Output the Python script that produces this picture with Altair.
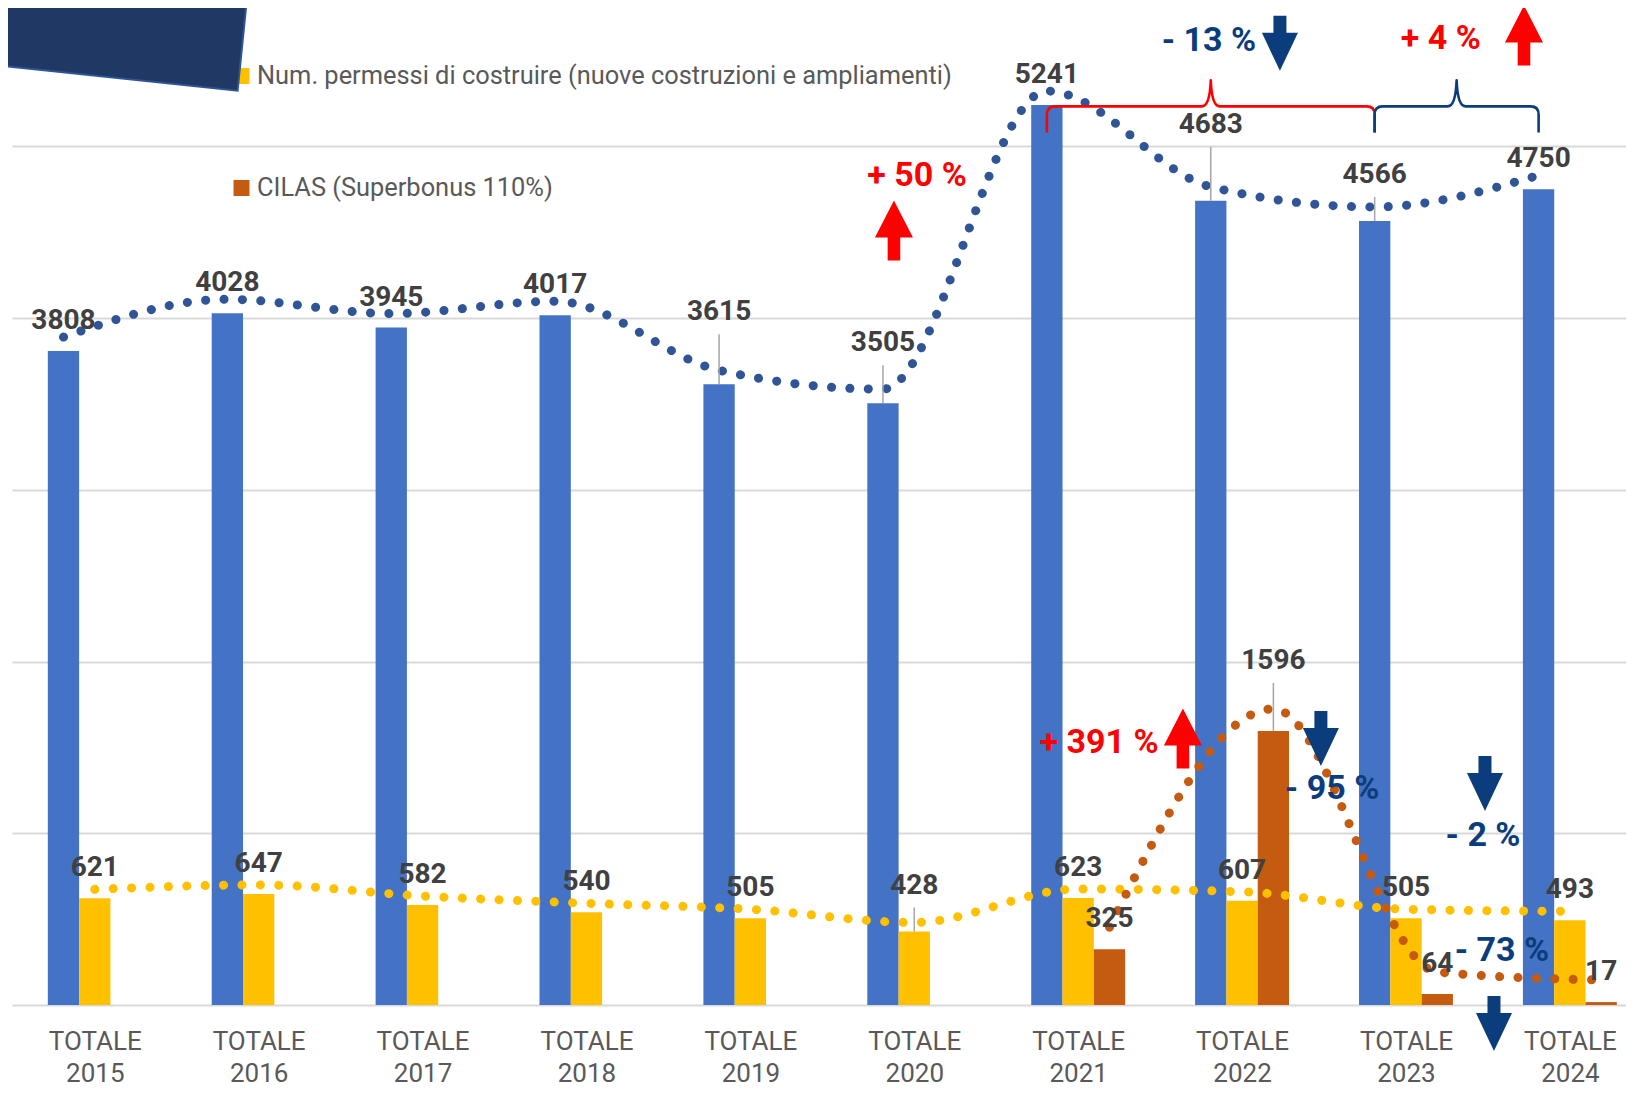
import altair as alt
import pandas as pd

# ---------------- data ----------------
years = [2015, 2016, 2017, 2018, 2019, 2020, 2021, 2022, 2023, 2024]
totale = [3808, 4028, 3945, 4017, 3615, 3505, 5241, 4683, 4566, 4750]
permessi = [621, 647, 582, 540, 505, 428, 623, 607, 505, 493]
cilas = [None, None, None, None, None, None, 325, 1596, 64, 17]

series = [
    "Totale",
    "Num. permessi di costruire (nuove costruzioni e ampliamenti)",
    "CILAS (Superbonus 110%)",
]
legend_items = series[1:]

# percentage annotations (data coordinates: year, value)
pct_text = ["+ 50 %", "+ 4 %", "+ 391 %", "- 13 %", "- 95 %", "- 2 %", "- 73 %"]
pct_x = [2020.017, 2023.213, 2021.127, 2021.798, 2022.549, 2023.470, 2023.585]
pct_y = [4825, 5623, 1523, 5611, 1255, 987, 317]
pct_dir = ["up", "up", "up", "down", "down", "down", "down"]

up_x = [2019.876, 2023.720, 2021.639]
up_y = [4511, 5646, 1552]
down_x = [2022.231, 2022.481, 2023.482, 2023.537]
down_y = [5600, 1552, 1290, -108]

brace_from = [2021, 2023]
brace_to = [2023, 2024]
brace_val = 5233

# ---------------- layout / style ----------------
PLOT_W, PLOT_H = 1614, 997
X_MIN = 2014.495
STEP = 163.9
X_MAX = X_MIN + PLOT_W / STEP
Y_MAX = 5806
PX = PLOT_H / Y_MAX
BAR_W = 0.191
OFFSETS = [-0.191, 0.0, 0.191]

BAR_COLORS = ["#4472C4", "#FFC000", "#C55A11"]
TREND_COLORS = ["#2F5597", "#FFC000", "#C55A11"]
TREND_LIFT = [-14, -9, -22]
RED = "#FF0000"
NAVY = "#0B3D7D"
FONT = "Roboto"

# extra lift (px) of some value labels, which carry a leader line
LIFT = {(0, 2019): 72, (0, 2020): 60, (0, 2022): 76, (0, 2023): 46,
        (1, 2020): 46, (2, 2022): 70}

rows = []
for si, vals in enumerate([totale, permessi, cilas]):
    for yr, v in zip(years, vals):
        if v is None:
            continue
        xc = yr + OFFSETS[si]
        lift = LIFT.get((si, yr), 30)
        rows.append(dict(series=series[si], si=si, year=yr, value=v, xc=xc,
                         xlo=xc - BAR_W / 2, xhi=xc + BAR_W / 2,
                         label_val=v + lift / PX,
                         leader_top=v + (lift - 22) / PX,
                         leader=lift > 40))
df = pd.DataFrame(rows)

xscale = alt.Scale(domain=[X_MIN, X_MAX], nice=False, zero=False)
yscale = alt.Scale(domain=[0, Y_MAX], nice=False, zero=False)


def X(f):
    return alt.X(f, title=None)


def Y(f):
    return alt.Y(f, title=None)


base = alt.Chart(df)

bars = base.mark_bar(strokeWidth=0).encode(
    x=alt.X("xlo:Q", scale=xscale, title=None,
            axis=alt.Axis(values=years, format="d",
                          labelExpr="['TOTALE', datum.label]",
                          title=None, domain=False, ticks=False, grid=False,
                          labelFont=FONT, labelFontSize=26, labelColor="#595959",
                          labelPadding=23, labelLineHeight=32,
                          labelOverlap=False, labelFlush=False, labelBound=False)),
    x2="xhi:Q",
    y=alt.Y("value:Q", scale=yscale, title=None,
            axis=alt.Axis(values=[0, 1000, 2000, 3000, 4000, 5000], labels=False,
                          ticks=False, domain=False, title=None, grid=True,
                          gridColor="#D9D9D9", gridWidth=2)),
    y2=alt.datum(0),
    color=alt.Color("series:N", scale=alt.Scale(domain=series, range=BAR_COLORS),
                    legend=None),
)

trends = []
for si in range(3):
    trends.append(
        base.transform_filter(alt.datum.si == si).mark_line(
            interpolate="monotone", strokeDash=[0.1, 18.3], strokeCap="round",
            strokeWidth=9, color=TREND_COLORS[si], yOffset=TREND_LIFT[si],
        ).encode(x=X("xc:Q"), y=Y("value:Q"))
    )

leaders = base.transform_filter("datum.leader").mark_rule(
    color="#A6A6A6", strokeWidth=1.5
).encode(x=X("xc:Q"), y=Y("value:Q"), y2="leader_top:Q")

labels = base.mark_text(
    font=FONT, fontWeight="bold", fontSize=28, color="#404040",
    align="center", baseline="middle"
).encode(
    x=X("xc:Q"), y=Y("label_val:Q"),
    text=alt.Text("value:Q", format="d"),
)

ann = pd.DataFrame(dict(x=pct_x, y=pct_y, t=pct_text, d=pct_dir))
ann_layers = []
for d, col in [("up", RED), ("down", NAVY)]:
    ann_layers.append(
        alt.Chart(ann).transform_filter(alt.datum.d == d).mark_text(
            font=FONT, fontWeight="bold", fontSize=34, color=col,
            align="center", baseline="middle"
        ).encode(x=X("x:Q"), y=Y("y:Q"), text="t:N")
    )

UP = "M -6.3 30 L -6.3 7 L -19 7 L 0 -30 L 19 7 L 6.3 7 L 6.3 30 Z"
DOWN = "M -6.5 -27.5 L 6.5 -27.5 L 6.5 -10.5 L 18 -10.5 L 0 27.5 L -18 -10.5 L -6.5 -10.5 Z"

up_arrows = alt.Chart(pd.DataFrame(dict(x=up_x, y=up_y))).mark_point(
    shape=UP, size=4, filled=True, fill=RED, strokeWidth=0, opacity=1
).encode(x=X("x:Q"), y=Y("y:Q"))
down_arrows = alt.Chart(pd.DataFrame(dict(x=down_x, y=down_y))).mark_point(
    shape=DOWN, size=4, filled=True, fill=NAVY, strokeWidth=0, opacity=1
).encode(x=X("x:Q"), y=Y("y:Q"))


def brace_path(hw, drop=26, rise=26, r=8):
    return (f"M {-hw:.1f} {drop} L {-hw:.1f} {r} Q {-hw:.1f} 0 {-hw + r:.1f} 0 "
            f"L -9 0 Q -1 0 0 {-rise} Q 1 0 9 0 "
            f"L {hw - r:.1f} 0 Q {hw:.1f} 0 {hw:.1f} {r} L {hw:.1f} {drop}")


braces = []
for a, b, col in zip(brace_from, brace_to, [RED, NAVY]):
    mid = (a + b) / 2 + OFFSETS[0]
    hw = (b - a) / 2 * STEP
    braces.append(
        alt.Chart(pd.DataFrame(dict(x=[mid], y=[brace_val]))).mark_point(
            shape=brace_path(hw), size=4, filled=False, stroke=col,
            strokeWidth=2.6, opacity=1, strokeJoin="round"
        ).encode(x=X("x:Q"), y=Y("y:Q"))
    )

# legend (manual, top-left)
leg_layers = []
for txt, col, py in zip(legend_items, BAR_COLORS[1:], [68, 180]):
    one = alt.Chart(pd.DataFrame(dict(t=[txt])))
    leg_layers.append(one.mark_square(size=256, color=col, opacity=1, strokeWidth=0).encode(
        x=alt.value(229.5), y=alt.value(py)))
    leg_layers.append(one.mark_text(font=FONT, fontSize=25.4, color="#595959",
                                    align="left", baseline="middle").encode(
        x=alt.value(245), y=alt.value(py), text="t:N"))

# decorative dark polygon in the top-left corner
POLY = "M -14 -10 L 235 -10 L 225.6 82.7 L -14 57.4 Z"
poly = alt.Chart(pd.DataFrame(dict(t=[0]))).mark_point(
    shape=POLY, size=4, filled=True, fill="#203864", stroke="#2F5597",
    strokeWidth=2, opacity=1
).encode(x=alt.value(0), y=alt.value(0))

chart = alt.layer(
    bars, *trends, leaders, labels, *ann_layers, up_arrows, down_arrows,
    *braces, *leg_layers, poly
).properties(
    width=PLOT_W, height=PLOT_H,
    padding={"left": 4, "top": 0, "right": 0, "bottom": 84},
    autosize=alt.AutoSizeParams(type="none"),
    background="white",
).configure_view(stroke=None)

chart.save("out.html", embed_options={"renderer": "svg", "actions": False})
